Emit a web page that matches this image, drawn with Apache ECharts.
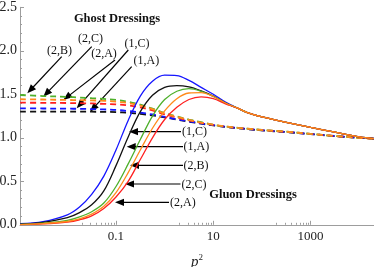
<!DOCTYPE html>
<html>
<head>
<meta charset="utf-8">
<script src="https://cdn.jsdelivr.net/npm/echarts@6/dist/echarts.min.js"></script>
<style>
html,body{margin:0;padding:0;background:#fff;}
#chart{width:374px;height:267px;}
</style>
</head>
<body>
<div id="chart"></div>
<script>
// shared p^2 sample points (log spaced)
var pSq = [0.00107, 0.00316, 0.01, 0.0178, 0.0316, 0.0562, 0.1, 0.178, 0.316, 0.562, 1, 1.78, 3.16, 5.62, 10, 17.8, 31.6, 50.1, 100, 316, 1000, 3162, 10000, 20100];

// Gluon dressings (solid)
var gluon1C = [0.012, 0.036, 0.115, 0.205, 0.35, 0.56, 0.86, 1.20, 1.48, 1.65, 1.72, 1.715, 1.66, 1.58, 1.50, 1.41, 1.34, 1.29, 1.24, 1.178, 1.12, 1.065, 1.01, 0.99];
var gluon1A = [0.007, 0.028, 0.082, 0.14, 0.23, 0.39, 0.68, 1.01, 1.30, 1.49, 1.58, 1.60, 1.585, 1.54, 1.48, 1.40, 1.34, 1.29, 1.24, 1.178, 1.12, 1.065, 1.01, 0.99];
var gluon2B = [0.004, 0.018, 0.05, 0.09, 0.15, 0.25, 0.44, 0.70, 0.98, 1.25, 1.44, 1.535, 1.565, 1.535, 1.475, 1.40, 1.34, 1.29, 1.24, 1.178, 1.12, 1.065, 1.01, 0.99];
var gluon2C = [0.003, 0.014, 0.038, 0.068, 0.122, 0.212, 0.37, 0.60, 0.86, 1.11, 1.31, 1.45, 1.515, 1.52, 1.475, 1.40, 1.34, 1.29, 1.24, 1.178, 1.12, 1.065, 1.01, 0.99];
var gluon2A = [0.003, 0.011, 0.032, 0.058, 0.103, 0.188, 0.32, 0.50, 0.75, 1.00, 1.21, 1.35, 1.44, 1.47, 1.45, 1.39, 1.34, 1.29, 1.24, 1.178, 1.12, 1.065, 1.01, 0.99];

// Ghost dressings (dashed)
var ghost2B = [1.492, 1.48, 1.47, 1.463, 1.455, 1.447, 1.435, 1.415, 1.38, 1.335, 1.285, 1.245, 1.21, 1.18, 1.15, 1.13, 1.115, 1.105, 1.09, 1.07, 1.045, 1.02, 1.0, 0.99];
var ghost2C = [1.443, 1.44, 1.435, 1.433, 1.43, 1.425, 1.415, 1.40, 1.37, 1.33, 1.28, 1.24, 1.205, 1.175, 1.15, 1.13, 1.115, 1.105, 1.09, 1.07, 1.045, 1.02, 1.0, 0.99];
var ghost2A = [1.404, 1.402, 1.40, 1.398, 1.395, 1.39, 1.385, 1.372, 1.35, 1.315, 1.27, 1.233, 1.20, 1.172, 1.148, 1.128, 1.113, 1.103, 1.088, 1.068, 1.044, 1.02, 1.0, 0.99];
var ghost1C = [1.339, 1.337, 1.335, 1.333, 1.33, 1.326, 1.32, 1.308, 1.29, 1.268, 1.24, 1.213, 1.19, 1.165, 1.145, 1.127, 1.112, 1.102, 1.087, 1.067, 1.043, 1.02, 1.0, 0.99];
var ghost1A = [1.30, 1.30, 1.30, 1.30, 1.30, 1.298, 1.295, 1.287, 1.275, 1.258, 1.235, 1.21, 1.185, 1.162, 1.142, 1.125, 1.11, 1.10, 1.085, 1.066, 1.043, 1.02, 1.0, 0.99];

var xMajorTicks = [0.1, 10, 1000];
var xMinorTicks = [0.02,0.03,0.04,0.05,0.06,0.07,0.08,0.09, 2,3,4,5,6,7,8,9, 200,300,400,500,600,700,800,900];

function pairs(ys){ return ys.map(function(y,i){ return [pSq[i], y]; }); }

var C = {blue:'#1515ff', black:'#111111', green:'#4fb02c', orange:'#ff8a1c', red:'#ff2020'};
var serif = '"Liberation Serif", "DejaVu Serif", serif';

function solid(name, ys, color){
  return {name:name, type:'line', data:pairs(ys), showSymbol:false, smooth:0.35,
    lineStyle:{color:color, width:1.3}, itemStyle:{color:color}, silent:true};
}
function dashed(name, ys, color){
  return {name:name, type:'line', data:pairs(ys), showSymbol:false, smooth:0.35,
    lineStyle:{color:color, width:1.8, type:[6,4]}, itemStyle:{color:color}, silent:true};
}

var arrowsGhost = [
  {t:'(2,B)', lx:59.5, ly:50.8, from:[61.7,56.7], to:[27.3,93.3]},
  {t:'(2,C)', lx:90.5, ly:39, from:[91.7,46.7], to:[43.3,96.7]},
  {t:'(2,A)', lx:104, ly:54, from:[115,60], to:[63.3,100]},
  {t:'(1,C)', lx:137, ly:43.5, from:[128.3,50], to:[76.7,108.3]},
  {t:'(1,A)', lx:146.3, ly:60.8, from:[131.7,66.7], to:[90,111.7]}
];
var arrowsGluon = [
  {t:'(1,C)', lx:182, ly:131.7, from:[181,131.7], to:[129,131.7]},
  {t:'(1,A)', lx:183.5, ly:147, from:[183,146.7], to:[126.7,146.7]},
  {t:'(2,B)', lx:183.5, ly:166, from:[183,165.3], to:[130,165.3]},
  {t:'(2,C)', lx:181.5, ly:184.5, from:[180.5,184], to:[125,184]},
  {t:'(2,A)', lx:170, ly:202.5, from:[169,202.3], to:[115,202.3]}
];

var graphics = [];
function addArrow(a, align){
  var dx = a.to[0]-a.from[0], dy = a.to[1]-a.from[1];
  var L = Math.sqrt(dx*dx+dy*dy), ux = dx/L, uy = dy/L;
  var hl = 9, hw = 3.6;
  var bx = a.to[0]-ux*hl, by = a.to[1]-uy*hl;
  graphics.push({type:'line', silent:true, shape:{x1:a.from[0], y1:a.from[1], x2:bx+ux*1, y2:by+uy*1},
    style:{stroke:'#000', lineWidth:1.2}});
  graphics.push({type:'polygon', silent:true, shape:{points:[[a.to[0],a.to[1]],[bx-uy*hw, by+ux*hw],[bx+uy*hw, by-ux*hw]]},
    style:{fill:'#000'}});
  graphics.push({type:'text', silent:true, x:a.lx, y:a.ly, style:{text:a.t, font:'12px '+serif, fill:'#111',
    align:align, verticalAlign:'middle'}});
}
arrowsGhost.forEach(function(a){ addArrow(a,'center'); });
arrowsGluon.forEach(function(a){ addArrow(a,'left'); });
graphics.push({type:'text', silent:true, x:117, y:19, style:{text:'Ghost Dressings', font:'bold 12.5px '+serif, fill:'#111', align:'center', verticalAlign:'middle'}});
graphics.push({type:'text', silent:true, x:253, y:194.3, style:{text:'Gluon Dressings', font:'bold 12.5px '+serif, fill:'#111', align:'center', verticalAlign:'middle'}});

var axisGray = '#9d9d9d';
var chart = echarts.init(document.getElementById('chart'), null, {renderer:'canvas'});
chart.setOption({
  animation:false,
  backgroundColor:'#fff',
  grid:{left:20, right:0, top:7.3, bottom:42.2, containLabel:false, outerBoundsMode:'none'},
  xAxis:[{
    type:'log', logBase:10, min:0.001064, max:20090,
    position:'bottom',
    axisLine:{show:true, onZero:false, lineStyle:{color:axisGray, width:1}},
    axisTick:{show:true, inside:true, length:4, customValues:xMajorTicks, lineStyle:{color:axisGray}},
    axisLabel:{show:true, customValues:xMajorTicks, margin:5, fontFamily:serif, fontSize:13, color:'#222',
      formatter:function(v){ return String(+v.toPrecision(3)); }},
    splitLine:{show:false}, minorTick:{show:false}, minorSplitLine:{show:false},
    name:'{p|p}{s|2}', nameLocation:'middle', nameGap:28,
    nameTextStyle:{rich:{p:{fontFamily:serif, fontStyle:'italic', fontSize:15, color:'#222'},
      s:{fontFamily:serif, fontSize:9, color:'#222', padding:[0,0,9,0]}}}
  },{
    type:'log', logBase:10, min:0.001064, max:20090,
    position:'bottom', offset:0,
    axisLine:{show:false, onZero:false},
    axisTick:{show:true, inside:true, length:2, customValues:xMinorTicks, lineStyle:{color:axisGray}},
    axisLabel:{show:false},
    splitLine:{show:false}
  }],
  yAxis:{
    type:'value', min:0, max:2.5, interval:0.5,
    axisLine:{show:true, onZero:false, lineStyle:{color:axisGray, width:1}},
    axisTick:{show:true, inside:true, length:4, lineStyle:{color:axisGray}},
    minorTick:{show:true, splitNumber:5, length:2, lineStyle:{color:axisGray}},
    axisLabel:{margin:3, fontFamily:serif, fontSize:14, color:'#222', formatter:function(v){ return v.toFixed(1); }},
    splitLine:{show:false}, minorSplitLine:{show:false}
  },
  series:[
    dashed('ghost (1,A)', ghost1A, C.black),
    dashed('ghost (1,C)', ghost1C, C.blue),
    dashed('ghost (2,A)', ghost2A, C.red),
    dashed('ghost (2,B)', ghost2B, C.green),
    dashed('ghost (2,C)', ghost2C, C.orange),
    solid('gluon (1,C)', gluon1C, C.blue),
    solid('gluon (1,A)', gluon1A, C.black),
    solid('gluon (2,B)', gluon2B, C.green),
    solid('gluon (2,A)', gluon2A, C.red),
    solid('gluon (2,C)', gluon2C, C.orange)
  ],
  graphic:graphics
});
</script>
</body>
</html>
